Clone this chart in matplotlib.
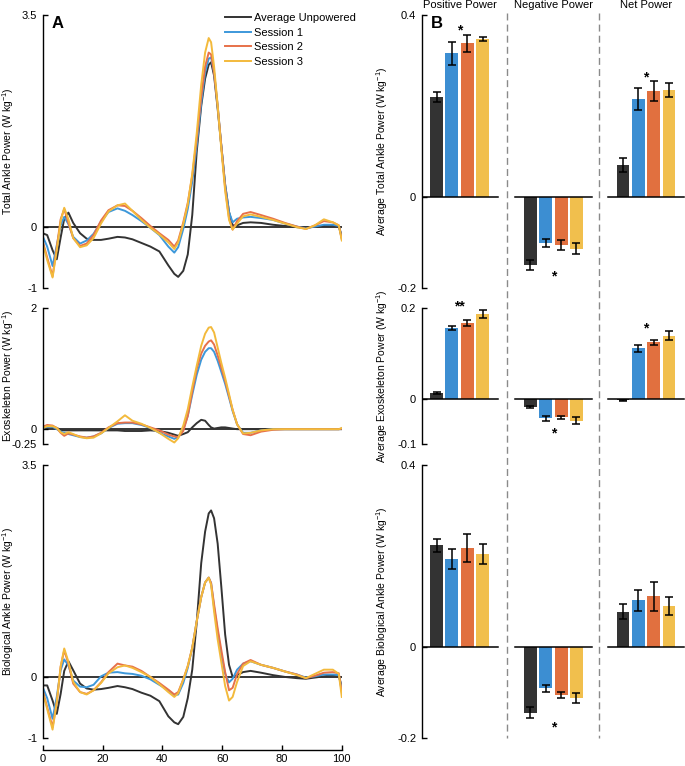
import numpy as np
import matplotlib
matplotlib.use("Agg")
import matplotlib.pyplot as plt
from matplotlib.lines import Line2D
from matplotlib.transforms import blended_transform_factory

plt.rcParams["font.family"] = ["Liberation Sans", "DejaVu Sans"]
plt.rcParams["mathtext.default"] = "regular"

W, H = 685, 766

# ── 보행 주기별 파워 곡선 (% gait cycle) ─────────────────────────────────
gait_pct = [0, 1.5, 3.3, 4.7, 6.0, 7.2, 8.6, 10.2, 12.5, 14.7,
            17, 19.5, 22, 25, 27.5, 30, 33, 36, 39, 42,
            44, 45.3, 47, 48.5, 50, 51.5, 53, 54.3, 55.5, 56.3,
            57.3, 58.5, 59.7, 61, 62.3, 63.5, 65, 67, 69.5, 73,
            77, 81, 85, 88, 91, 94, 97, 99, 100]

total_unpowered = [-0.10, -0.13, -0.38, -0.53, -0.17, 0.14, 0.24, 0.07, -0.10, -0.19,
                   -0.21, -0.21, -0.19, -0.16, -0.17, -0.20, -0.26, -0.32, -0.40, -0.63,
                   -0.77, -0.82, -0.72, -0.45, 0.20, 1.25, 2.00, 2.45, 2.68, 2.72,
                   2.50, 1.95, 1.35, 0.70, 0.25, 0.03, 0.03, 0.07, 0.08, 0.07,
                   0.04, 0.02, 0.00, -0.01, 0.01, 0.02, 0.03, 0.02, -0.15]
total_s1 = [-0.15, -0.32, -0.64, -0.30, 0.03, 0.17, 0.05, -0.16, -0.27, -0.22,
            -0.11, 0.09, 0.25, 0.31, 0.27, 0.20, 0.10, -0.01, -0.13, -0.32,
            -0.42, -0.33, -0.03, 0.30, 0.75, 1.35, 2.05, 2.55, 2.78, 2.80,
            2.55, 2.00, 1.35, 0.70, 0.25, 0.08, 0.14, 0.16, 0.17, 0.15,
            0.12, 0.06, 0.01, -0.02, 0.01, 0.04, 0.04, 0.02, -0.18]
total_s2 = [-0.23, -0.50, -0.81, -0.33, 0.13, 0.30, 0.07, -0.18, -0.31, -0.27,
            -0.13, 0.11, 0.28, 0.36, 0.35, 0.27, 0.15, 0.02, -0.10, -0.21,
            -0.32, -0.22, 0.08, 0.40, 0.85, 1.45, 2.15, 2.65, 2.88, 2.85,
            2.55, 2.00, 1.35, 0.65, 0.15, -0.04, 0.10, 0.22, 0.25, 0.20,
            0.14, 0.07, 0.01, -0.03, 0.03, 0.10, 0.08, 0.03, -0.20]
total_s3 = [-0.26, -0.54, -0.83, -0.38, 0.10, 0.32, 0.13, -0.18, -0.33, -0.30,
            -0.18, 0.06, 0.26, 0.36, 0.39, 0.27, 0.12, -0.01, -0.12, -0.25,
            -0.36, -0.25, 0.05, 0.38, 0.88, 1.55, 2.35, 2.88, 3.12, 3.05,
            2.65, 2.00, 1.30, 0.60, 0.12, -0.04, 0.06, 0.18, 0.21, 0.17,
            0.12, 0.06, 0.00, -0.03, 0.03, 0.13, 0.08, 0.03, -0.22]

exo_unpowered = [0.03, 0.04, 0.04, 0.02, -0.01, -0.02, -0.02, -0.02, -0.02, -0.02,
                 -0.02, -0.02, -0.02, -0.02, -0.03, -0.03, -0.03, -0.02, -0.03, -0.06,
                 -0.09, -0.11, -0.08, -0.05, 0.03, 0.10, 0.155, 0.14, 0.07, 0.03,
                 0.01, 0.02, 0.03, 0.03, 0.02, 0.01, 0.00, 0.00, 0.00, 0.00,
                 0.00, 0.00, 0.00, 0.00, 0.00, 0.00, 0.00, 0.00, 0.00]
exo_s1 = [0.02, 0.04, 0.04, 0.00, -0.04, -0.06, -0.08, -0.10, -0.13, -0.14,
          -0.12, -0.07, 0.02, 0.09, 0.10, 0.10, 0.07, 0.02, -0.06, -0.12,
          -0.16, -0.13, 0.00, 0.22, 0.57, 0.90, 1.15, 1.28, 1.34, 1.34,
          1.28, 1.13, 0.95, 0.75, 0.52, 0.30, 0.08, -0.06, -0.06, -0.02,
          0.00, 0.00, 0.00, 0.00, 0.00, 0.00, 0.00, 0.00, 0.01]
exo_s2 = [0.04, 0.07, 0.06, 0.02, -0.06, -0.11, -0.07, -0.09, -0.12, -0.14,
          -0.12, -0.06, 0.03, 0.10, 0.11, 0.11, 0.08, 0.03, -0.02, -0.09,
          -0.12, -0.13, -0.03, 0.22, 0.62, 1.00, 1.25, 1.38, 1.45, 1.47,
          1.40, 1.22, 1.02, 0.80, 0.55, 0.32, 0.08, -0.08, -0.10, -0.04,
          -0.01, 0.00, 0.00, 0.00, 0.00, 0.00, 0.00, 0.00, 0.01]
exo_s3 = [0.02, 0.05, 0.05, 0.02, -0.05, -0.08, -0.05, -0.08, -0.13, -0.15,
          -0.14, -0.07, 0.02, 0.13, 0.23, 0.14, 0.09, 0.02, -0.06, -0.16,
          -0.22, -0.15, 0.06, 0.33, 0.70, 1.05, 1.38, 1.58, 1.68, 1.69,
          1.60, 1.35, 1.10, 0.85, 0.58, 0.32, 0.08, -0.07, -0.06, -0.02,
          0.00, 0.00, 0.00, 0.00, 0.00, 0.00, 0.00, 0.00, 0.02]

bio_unpowered = [-0.14, -0.14, -0.39, -0.61, -0.28, 0.10, 0.26, 0.11, -0.11, -0.19,
                 -0.21, -0.20, -0.18, -0.15, -0.17, -0.20, -0.26, -0.31, -0.40, -0.65,
                 -0.75, -0.78, -0.66, -0.35, 0.12, 0.90, 1.88, 2.40, 2.70, 2.75,
                 2.62, 2.20, 1.50, 0.70, 0.20, 0.00, 0.03, 0.08, 0.10, 0.07,
                 0.03, 0.00, -0.02, -0.03, -0.01, 0.01, 0.03, 0.03, -0.17]
bio_s1 = [-0.17, -0.35, -0.69, -0.33, 0.11, 0.29, 0.19, -0.06, -0.16, -0.17,
          -0.13, 0.01, 0.07, 0.08, 0.06, 0.05, 0.02, -0.04, -0.13, -0.22,
          -0.30, -0.29, -0.10, 0.15, 0.48, 0.92, 1.32, 1.56, 1.64, 1.55,
          1.15, 0.75, 0.38, 0.05, -0.09, -0.03, 0.12, 0.22, 0.26, 0.20,
          0.15, 0.09, 0.04, -0.01, 0.01, 0.04, 0.04, 0.03, -0.20]
bio_s2 = [-0.22, -0.50, -0.83, -0.42, 0.17, 0.44, 0.22, -0.11, -0.25, -0.28,
          -0.22, -0.09, 0.08, 0.22, 0.19, 0.17, 0.10, 0.00, -0.10, -0.21,
          -0.29, -0.25, -0.04, 0.18, 0.48, 0.92, 1.32, 1.56, 1.64, 1.55,
          1.20, 0.80, 0.45, 0.08, -0.22, -0.18, 0.05, 0.22, 0.28, 0.20,
          0.15, 0.09, 0.04, -0.02, 0.02, 0.07, 0.08, 0.06, -0.25]
bio_s3 = [-0.25, -0.53, -0.87, -0.42, 0.17, 0.47, 0.25, -0.08, -0.25, -0.29,
          -0.22, -0.10, 0.06, 0.16, 0.19, 0.15, 0.08, 0.00, -0.12, -0.25,
          -0.33, -0.27, -0.04, 0.18, 0.48, 0.92, 1.32, 1.56, 1.64, 1.52,
          1.08, 0.62, 0.25, -0.15, -0.39, -0.33, -0.08, 0.18, 0.26, 0.20,
          0.15, 0.09, 0.03, -0.02, 0.05, 0.12, 0.12, 0.05, -0.33]

# ── 평균 파워 막대 (positive / negative / net) ────────────────────────────
groups = ["Positive Power", "Negative Power", "Net Power"]
conditions = ["Average Unpowered", "Session 1", "Session 2", "Session 3"]

total_mean = [[0.219, 0.316, 0.338, 0.347], [-0.150, -0.101, -0.105, -0.114], [0.070, 0.215, 0.233, 0.235]]
total_err = [[0.011, 0.025, 0.019, 0.005], [0.011, 0.009, 0.011, 0.012], [0.015, 0.024, 0.022, 0.016]]
exo_mean = [[0.013, 0.156, 0.167, 0.188], [-0.017, -0.043, -0.041, -0.048], [-0.003, 0.112, 0.125, 0.139]]
exo_err = [[0.003, 0.005, 0.007, 0.009], [0.002, 0.005, 0.003, 0.008], [0.001, 0.008, 0.005, 0.010]]
bio_mean = [[0.223, 0.194, 0.217, 0.203], [-0.145, -0.092, -0.107, -0.113], [0.077, 0.102, 0.111, 0.090]]
bio_err = [[0.014, 0.022, 0.031, 0.022], [0.013, 0.008, 0.007, 0.010], [0.016, 0.023, 0.032, 0.020]]

# (group index, marker, y)
total_stars = [(0, "*", 0.369), (1, "*", -0.172), (2, "*", 0.266)]
exo_stars = [(0, "**", 0.207), (1, "*", -0.073), (2, "*", 0.159)]
bio_stars = [(1, "*", -0.175)]

line_colors = ["#333333", "#3D98DA", "#E7714A", "#F3BA3C"]
bar_colors = ["#333333", "#3C8ED2", "#E1703F", "#F1BF4D"]
group_offsets = [0.0, 6.12, 12.16]


def px_axes(fig, x0, y0, x1, y1):
    """픽셀 좌표(위쪽 기준) → figure 비율"""
    return fig.add_axes([x0 / W, 1 - y1 / H, (x1 - x0) / W, (y1 - y0) / H])


def style_left(ax, ymin, ymax, labels):
    for s in ("top", "right", "bottom"):
        ax.spines[s].set_visible(False)
    ax.spines["left"].set_bounds(ymin, ymax)
    ax.spines["left"].set_linewidth(1.0)
    ax.set_ylim(ymin, ymax)
    ax.set_yticks([ymin, 0, ymax])
    ax.set_yticklabels(labels)
    ax.tick_params(axis="y", direction="in", length=3.5, width=1.0, labelsize=8, pad=4)
    ax.set_xticks([])


fig = plt.figure(figsize=(W / 100, H / 100), dpi=100)

# ── A: 곡선 패널 ─────────────────────────────────────────────────────────
curve_panels = [
    ((42.7, 15, 341.8, 287.8), (-1, 3.5), ["-1", "0", "3.5"],
     [total_unpowered, total_s1, total_s2, total_s3], "Total Ankle Power (W kg$^{-1}$)"),
    ((42.7, 308.3, 341.8, 444.3), (-0.25, 2), ["-0.25", "0", "2"],
     [exo_unpowered, exo_s1, exo_s2, exo_s3], "Exoskeleton Power (W kg$^{-1}$)"),
    ((42.7, 465, 341.8, 737.5), (-1, 3.5), ["-1", "0", "3.5"],
     [bio_unpowered, bio_s1, bio_s2, bio_s3], "Biological Ankle Power (W kg$^{-1}$)"),
]

left_axes = []
for box, (ymin, ymax), labels, series, ylabel in curve_panels:
    ax = px_axes(fig, *box)
    ax.set_xlim(0, 100)
    ax.plot([0, 100], [0, 0], color="black", lw=1.1, zorder=1)
    for vals, c, name in zip(series, line_colors, conditions):
        ax.plot(gait_pct, vals, color=c, lw=1.4, label=name, zorder=2)
    style_left(ax, ymin, ymax, labels)
    yc = (box[1] + box[3]) / 2
    fig.text(8 / W, 1 - yc / H, ylabel, rotation=90, ha="center", va="center", fontsize=7.5)
    left_axes.append(ax)

ax_bot = left_axes[2]
ax_bot.spines["bottom"].set_visible(True)
ax_bot.spines["bottom"].set_position(("outward", 9))
ax_bot.spines["bottom"].set_linewidth(1.0)
ax_bot.set_xticks([0, 20, 40, 60, 80, 100])
ax_bot.tick_params(axis="x", direction="in", length=3.5, width=1.0, labelsize=8, pad=3)

left_axes[0].legend(loc="upper left", bbox_to_anchor=(225 / W, 1 - 13 / H),
                    bbox_transform=fig.transFigure, frameon=False, fontsize=8,
                    handlelength=2.3, handletextpad=0.35, labelspacing=0.42,
                    borderpad=0, borderaxespad=0)
fig.text(58 / W, 1 - 24 / H, "A", fontsize=12, fontweight="bold", ha="center", va="center")

# ── B: 평균 파워 막대 ────────────────────────────────────────────────────
bar_panels = [
    ((421.7, 15, 685, 287.8), (-0.2, 0.4), ["-0.2", "0", "0.4"], total_mean, total_err,
     total_stars, "Average Total Ankle Power (W kg$^{-1}$)"),
    ((421.7, 308.3, 685, 444.2), (-0.1, 0.2), ["-0.1", "0", "0.2"], exo_mean, exo_err,
     exo_stars, "Average Exoskeleton Power (W kg$^{-1}$)"),
    ((421.7, 465, 685, 737.5), (-0.2, 0.4), ["-0.2", "0", "0.4"], bio_mean, bio_err,
     bio_stars, "Average Biological Ankle Power (W kg$^{-1}$)"),
]

right_axes = []
for box, (ymin, ymax), labels, means, errs, stars, ylabel in bar_panels:
    ax = px_axes(fig, *box)
    ax.set_xlim(-0.967, 16.2)
    for g, off in enumerate(group_offsets):
        pos = off + np.arange(4)
        ax.bar(pos, means[g], width=0.84, color=bar_colors, zorder=2,
               yerr=errs[g], capsize=2.6,
               error_kw=dict(ecolor="black", elinewidth=1.1, capthick=1.1, zorder=3))
        ax.plot([off - 1.0, off + 4.0], [0, 0], color="black", lw=1.1, zorder=4)
    for g, mark, y in stars:
        ax.text(group_offsets[g] + 1.5, y, mark, ha="center", va="center_baseline",
                fontsize=10, fontweight="bold")
    style_left(ax, ymin, ymax, labels)
    yc = (box[1] + box[3]) / 2
    fig.text(382 / W, 1 - yc / H, ylabel, rotation=90, ha="center", va="center", fontsize=7.5)
    right_axes.append(ax)

fig.text(437 / W, 1 - 24 / H, "B", fontsize=12, fontweight="bold", ha="center", va="center")

# 그룹 제목과 구분 점선
trans = blended_transform_factory(right_axes[0].transData, fig.transFigure)
for g, off in enumerate(group_offsets):
    fig.text(off + 1.5, 1 - 7.5 / H, groups[g], transform=trans, ha="center",
             va="baseline", fontsize=8)
for xd in (4.58, 10.62):
    fig.add_artist(Line2D([xd, xd], [1 - 13 / H, 1 - 738 / H], transform=trans,
                          color="#8a8a8a", lw=1.0, linestyle=(0, (5, 3))))

fig.savefig("out.png", dpi=100)
